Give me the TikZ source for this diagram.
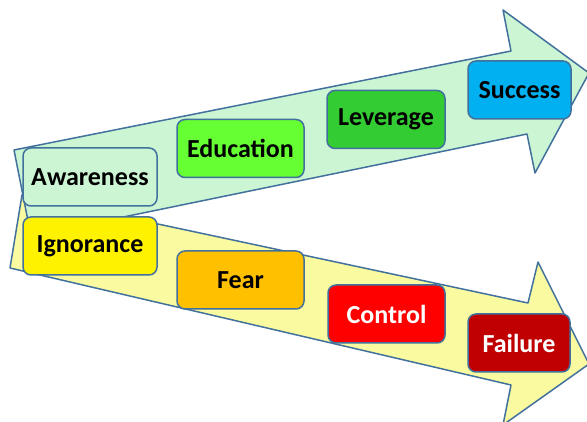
\documentclass[tikz,border=0pt]{standalone}
\usepackage{fontspec}
\setmainfont{Carlito}
\usepackage{xcolor}
\usepackage{tikz}

\definecolor{edge}{HTML}{41719C}
\definecolor{mint}{HTML}{CCF5D4}
\definecolor{paleyellow}{HTML}{FAFAA0}
\definecolor{lightgreen}{HTML}{66FF33}
\definecolor{midgreen}{HTML}{33CC33}
\definecolor{skyblue}{HTML}{00B0F0}
\definecolor{amber}{HTML}{FFC000}
\definecolor{darkred}{HTML}{C00000}

\tikzset{
  stage/.style={draw=edge, line width=1.5pt, rounded corners=8pt, inner sep=0pt,
    font=\fontsize{26}{30}\selectfont\bfseries, minimum height=58pt},
  band/.style={draw=edge, line width=1.5pt, line join=round}
}

\begin{document}
\begin{tikzpicture}[x=1pt, y=-1pt]
\useasboundingbox (0,0) rectangle (587,422);
\clip (0,0) rectangle (587,422);
% yellow arrow
\draw [band, fill=paleyellow] (22,195) -- (528,303) -- (538,262) -- (589,364)
  -- (503,425) -- (511,385) -- (10,268) -- cycle;
% green arrow
\draw [band, fill=mint] (14,150) -- (511,51) -- (503,10) -- (589,73)
  -- (535,173) -- (527,134) -- (31,236) -- cycle;
% upper stages
\node [stage, fill=mint, minimum width=134pt] (awareness) at (90,177) {Awareness};
\node [stage, fill=lightgreen, minimum width=127pt] (education) at (240.5,148.5) {Education};
\node [stage, fill=midgreen, minimum width=118pt] (leverage) at (386,119.5) {Leverage};
\node [stage, fill=skyblue, minimum width=103pt] (success) at (519.5,90) {Success};
% lower stages
\node [stage, fill=yellow, minimum width=134pt] (ignorance) at (90,246) {Ignorance};
\node [stage, fill=amber, minimum width=127pt] (fear) at (240.5,280) {Fear};
\node [stage, fill=red, text=white, minimum width=117pt] (control) at (386.5,314) {Control};
\node [stage, fill=darkred, text=white, minimum width=102pt] (failure) at (519,343) {Failure};
\end{tikzpicture}
\end{document}
